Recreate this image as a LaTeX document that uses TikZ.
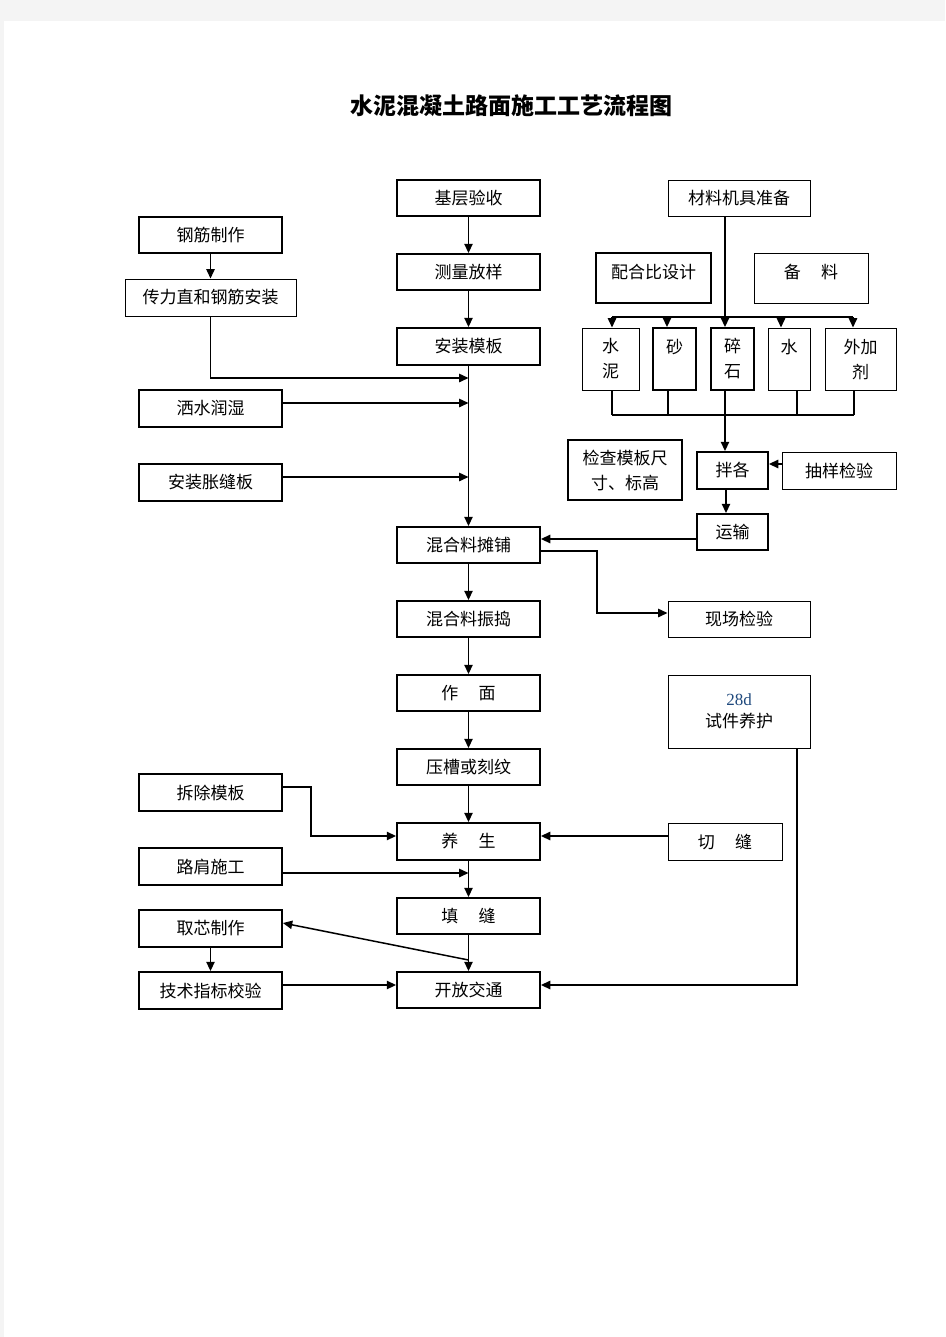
\documentclass[tikz,border=0pt]{standalone}
\usepackage{fontspec}
\setmainfont{Noto Sans CJK SC}
\newfontfamily\serifnum{Liberation Serif}
\usetikzlibrary{arrows.meta}
\definecolor{pagegray}{RGB}{244,244,244}
\definecolor{numblue}{RGB}{31,73,125}
\newcommand{\boxfont}{\fontsize{10.2}{15}\selectfont}
\newcommand{\titlefont}{\fontsize{13.8}{16}\selectfont\bfseries}
\tikzset{%
    box/.style 2 args={%
        draw, line width=1.1pt, align=center, inner sep=1pt, font=\boxfont,
        minimum width=#1*0.6pt, minimum height=#2*0.6pt
    },
    thinbox/.style 2 args={box={#1}{#2}, line width=0.6pt},
    topbox/.style 2 args={box={#1}{#2}, inner ysep=0pt, text height=15pt, text depth=#2*0.6pt-15pt},
    wire/.style={line width=0.9pt},
    flow/.style={wire, -{Triangle[length=5.6pt,width=5pt]}}
}

\begin{document}
\begin{tikzpicture}[x=0.6pt,y=-0.6pt]
%-----------------------------------------------
    \fill[pagegray] (0,0) rectangle (945,1337);
    \fill[white] (4,21) rectangle (945,1337);
    \useasboundingbox (0,0) rectangle (945,1337);
    \node[font=\titlefont] (title) at (511.5,106) {水泥混凝土路面施工工艺流程图};
%-----------------------------------------------
    \node[box={143}{36}] (jiceng) at (468.5,198) {基层验收};
    \node[box={143}{36}] (celiang) at (468.5,272) {测量放样};
    \node[box={143}{37}] (anzhuang) at (468.5,346.5) {安装模板};
    \node[box={143}{36}] (tanpu) at (468.5,545) {混合料摊铺};
    \node[box={143}{36}] (zhendao) at (468.5,619) {混合料振捣};
    \node[box={143}{36}] (zuomian) at (468.5,693) {作\hspace{1.2em}面};
    \node[box={143}{36}] (yacao) at (468.5,767) {压槽或刻纹};
    \node[box={143}{37}] (yangsheng) at (468.5,841.5) {养\hspace{1.2em}生};
    \node[box={143}{36}] (tianfeng) at (468.5,916) {填\hspace{1.2em}缝};
    \node[box={143}{36}] (kaifang) at (468.5,990) {开放交通};
%-----------------------------------------------
    \node[box={143}{36}] (gangjin) at (210.5,235) {钢筋制作};
    \node[thinbox={171}{37}] (chuanli) at (210.5,297.5) {传力直和钢筋安装};
    \node[box={143}{37}] (sashui) at (210.5,408.5) {洒水润湿};
    \node[box={143}{37}] (zhangfeng) at (210.5,482.5) {安装胀缝板};
    \node[box={143}{37}] (chaichu) at (210.5,792.5) {拆除模板};
    \node[box={143}{37}] (lujian) at (210.5,866.5) {路肩施工};
    \node[box={143}{37}] (quxin) at (210.5,928.5) {取芯制作};
    \node[box={143}{37}] (jishu) at (210.5,990.5) {技术指标校验};
%-----------------------------------------------
    \node[thinbox={142}{36}] (cailiao) at (739,198) {材料机具准备};
    \node[topbox={115}{50}] (peihe) at (653.5,278) {配合比设计};
    \node[topbox={114}{50}, line width=0.6pt] (beiliao) at (811,278) {备\hspace{1.2em}料};
    \node[thinbox={57}{62}] (shuini) at (610.5,359) {水\\泥};
    \node[box={43}{62}] (sha) at (674.5,359) {砂\\\mbox{}};
    \node[box={43}{62}] (suishi) at (732.5,359) {碎\\石};
    \node[thinbox={42}{62}] (shui) at (789,359) {水\\\mbox{}};
    \node[thinbox={71}{62}] (waijia) at (860.5,359) {外加\\剂};
    \node[box={114}{60}] (jiancha) at (625,470) {检查模板尺\\寸、标高};
    \node[box={71}{37}] (banbei) at (732.5,470.5) {拌各};
    \node[thinbox={114}{37}] (chouyang) at (839,470.5) {抽样检验};
    \node[box={71}{36}] (yunshu) at (732.5,532) {运输};
    \node[thinbox={142}{36}] (xianchang) at (739,619) {现场检验};
    \node[thinbox={142}{73}, font=\fontsize{10.2}{13}\selectfont] (shijian) at (739,711.5)
        {{\serifnum\color{numblue}28d}\\试件养护};
    \node[thinbox={114}{37}] (qiefeng) at (725,841.5) {切\hspace{1.2em}缝};
%-----------------------------------------------
    \coordinate (j1) at (468.5,378);
    \coordinate (j2) at (468.5,403);
    \coordinate (j3) at (468.5,477);
    \coordinate (j4) at (468.5,873);
    \coordinate (j5) at (468.5,960);
    \coordinate (busT) at (612,317);
    \coordinate (busB) at (725,415);
%-----------------------------------------------
    \draw[flow] (jiceng) -- (celiang);
    \draw[flow] (celiang) -- (anzhuang);
    \draw[flow] (anzhuang) -- (tanpu);
    \draw[flow] (gangjin) -- (chuanli);
    \draw[flow] (chuanli.south) |- (j1);
    \draw[flow] (sashui.east |- j2) -- (j2);
    \draw[flow] (zhangfeng.east |- j3) -- (j3);
%-----------------------------------------------
    \draw[wire] (busT) -- (853,317);
    \draw[flow] (cailiao.south -| 725,0) -- (suishi.north -| 725,0);
    \foreach \n/\x in {shuini/612,sha/667,shui/781,waijia/853}
        \draw[flow] (busT -| \x,0) -- (\n.north -| \x,0);
    \draw[wire] (612,415) -- (854,415);
    \foreach \n/\x in {shuini/612,sha/668,suishi/725,shui/797,waijia/854}
        \draw[wire] (\n.south -| \x,0) -- (busB -| \x,0);
    \draw[flow] (busB) -- (banbei.north -| busB);
    \draw[flow] (chouyang.west |- 0,464) -- (banbei.east |- 0,464);
    \draw[flow] (banbei.south -| 726,0) -- (yunshu.north -| 726,0);
    \draw[flow] (yunshu.west |- 0,539) -- (tanpu.east |- 0,539);
    \draw[flow] (tanpu.east |- 0,551) -| (597,613) -- (xianchang.west |- 0,613);
%-----------------------------------------------
    \foreach \a/\b in {tanpu/zhendao,zhendao/zuomian,zuomian/yacao,yacao/yangsheng,yangsheng/tianfeng,tianfeng/kaifang}
        \draw[flow] (\a) -- (\b);
    \draw[flow] (chaichu.east |- 0,787) -| (311,836) -- (yangsheng.west |- 0,836);
    \draw[flow] (qiefeng.west |- 0,836) -- (yangsheng.east |- 0,836);
    \draw[flow] (lujian.east |- j4) -- (j4);
    \draw[flow] (j5) -- (quxin.east |- 0,923);
    \draw[flow] (quxin) -- (jishu);
    \draw[flow] (jishu.east |- 0,985) -- (kaifang.west |- 0,985);
    \draw[flow] (shijian.south -| 797,0) |- (kaifang.east |- 0,985);
\end{tikzpicture}
\end{document}
